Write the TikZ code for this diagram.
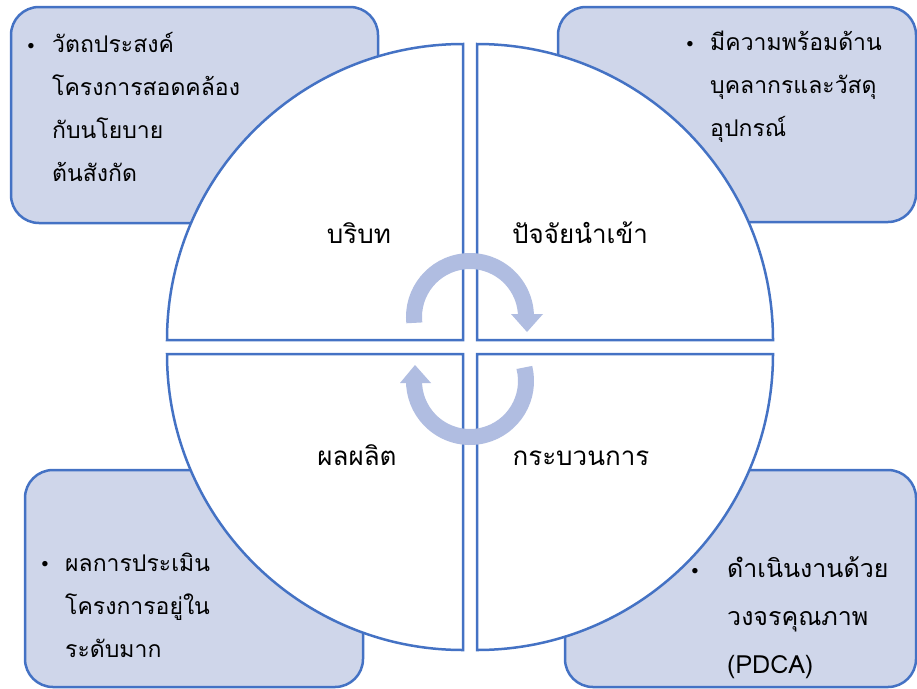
\documentclass[tikz,border=0pt]{standalone}
\usepackage{fontspec}
\newfontfamily\thaifont[Script=Thai]{Loma}
\definecolor{edge}{RGB}{68,114,196}
\definecolor{boxfill}{RGB}{207,214,234}
\definecolor{arrowc}{RGB}{176,189,225}
\tikzset{
  sidebox/.style={draw=edge,fill=boxfill,line width=2.5pt,rounded corners=28pt},
  quad/.style={draw=edge,fill=white,line width=2.5pt},
  lbl/.style={font=\thaifont\fontsize{26}{30}\selectfont,anchor=base,inner sep=0pt},
  boxtext/.style={font=\thaifont\fontsize{23}{43}\selectfont,anchor=base west,align=left,inner sep=0pt},
  boxtextbig/.style={font=\thaifont\fontsize{25}{48}\selectfont,anchor=base west,align=left,inner sep=0pt},
  bul/.style={font=\fontsize{24}{24}\selectfont,anchor=base,inner sep=0pt},
  cyc/.style={draw=arrowc,line width=16pt},
  cychead/.style={fill=arrowc}
}
\begin{document}
\begin{tikzpicture}[x=1pt,y=-1pt]
\useasboundingbox (0,0) rectangle (917,688);
% side boxes
\draw[sidebox] (11,7) rectangle (378,223);
\draw[sidebox] (558,7) rectangle (916,222);
\draw[sidebox] (25,470) rectangle (363,687);
\draw[sidebox] (565,470) rectangle (916,687);
% quadrants
\draw[quad] (463,340) -- (167,340) arc[start angle=180,end angle=270,radius=296] -- cycle;
\draw[quad] (477,340) -- (477,44) arc[start angle=270,end angle=360,radius=296] -- cycle;
\draw[quad] (477,354) -- (773,354) arc[start angle=0,end angle=90,radius=296] -- cycle;
\draw[quad] (463,354) -- (463,650) arc[start angle=90,end angle=180,radius=296] -- cycle;
% cycle arrows
\coordinate (ca) at (470,317);
\coordinate (cb) at (470,381);
\draw[cyc] ([shift={(174:56)}]ca) arc[start angle=174,end angle=358,radius=56];
\fill[cychead] (511,314) -- (543,314) -- (527,332) -- cycle;
\draw[cyc] ([shift={(-14:56)}]cb) arc[start angle=-14,end angle=181,radius=56];
\fill[cychead] (400,383) -- (431,383) -- (415,365) -- cycle;
% labels
\node[lbl] (ctx) at (359,243) {บริบท};
\node[lbl] (inp) at (580,243) {ปัจจัยนำเข้า};
\node[lbl] (out) at (357,465) {ผลผลิต};
\node[lbl] (proc) at (581,465) {กระบวนการ};
% box texts (anchor = baseline of last line)
\node[bul] (b1) at (31,52) {•};
\node[boxtext] (t1) at (52,181) {วัตถประสงค์\\โครงการสอดคล้อง\\กับนโยบาย\\ต้นสังกัด};
\node[bul] (b2) at (690,50) {•};
\node[boxtext] (t2) at (710,136) {มีความพร้อมด้าน\\บุคลากรและวัสดุ\\อุปกรณ์};
\node[bul] (b3) at (45,570) {•};
\node[boxtext] (t3) at (65,657) {ผลการประเมิน\\โครงการอยู่ใน\\ระดับมาก};
\node[bul] (b4) at (695,577) {•};
\node[boxtextbig] (t4) at (727,673) {ดำเนินงานด้วย\\วงจรคุณภาพ\\(PDCA)};
\end{tikzpicture}
\end{document}
